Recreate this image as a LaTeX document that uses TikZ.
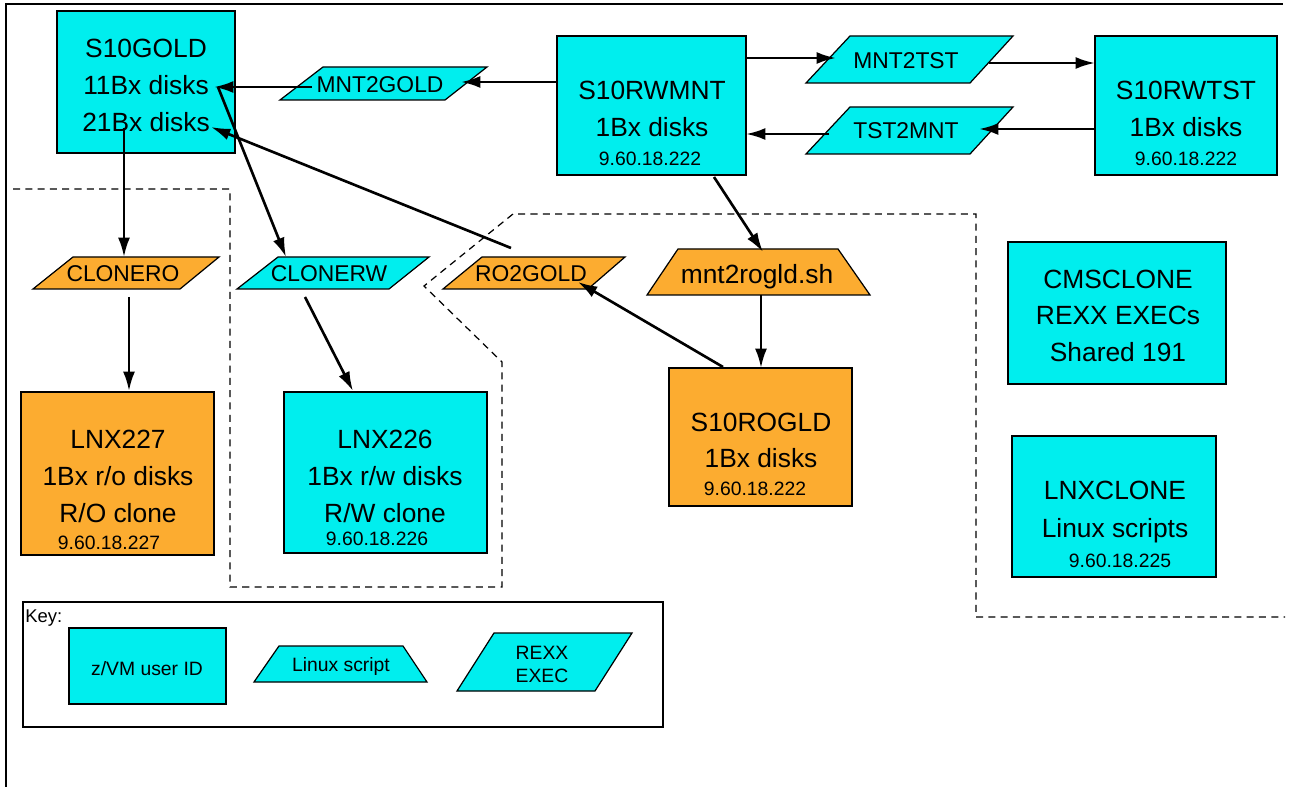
\documentclass[tikz,border=0pt]{standalone}
\usepackage{fontspec}
\setmainfont{Liberation Sans}
\usetikzlibrary{arrows.meta,fit}
\definecolor{cy}{RGB}{0,238,238}
\definecolor{org}{RGB}{252,172,48}
\begin{document}
\begin{tikzpicture}[x=0.02cm,y=-0.02cm,
  ubox/.style={draw=black, line width=0.7pt, inner sep=0pt},
  shp/.style={draw=black, line width=0.7pt, line join=miter},
  conn/.style={line width=1.5pt, -{Latex[length=11pt,width=6.8pt]}},
  dsh/.style={line width=0.7pt, dash pattern=on 4pt off 3pt},
  tA/.style={font=\fontsize{15}{18}\selectfont, inner sep=0pt, anchor=base},
  tB/.style={font=\fontsize{13}{16}\selectfont, inner sep=0pt, anchor=base},
  tC/.style={font=\fontsize{11}{13}\selectfont, inner sep=0pt, anchor=base},
  tK/.style={font=\fontsize{10.5}{12}\selectfont, inner sep=0pt, anchor=base west},
]
\useasboundingbox (0,0) rectangle (1289,787);
\fill[white] (0,0) rectangle (1289,787);
% frame
\draw[line width=0.6pt] (6,787) -- (6,4) -- (1283,4);

% dashed boundary
\draw[dsh] (13,189) -- (230,189) -- (230,587) -- (502,587) -- (502,362) -- (424,286) -- (513,214) -- (976,214) -- (976,617) -- (1285,617);

% boxes
\node[ubox, fill=cy,  fit={(57,11) (235,153)}]    (gold) {};
\node[ubox, fill=cy,  fit={(557,36) (746,175)}]   (rwmnt) {};
\node[ubox, fill=cy,  fit={(1095,36) (1277,175)}] (rwtst) {};
\node[ubox, fill=org, fit={(669,368) (852,506)}]  (rogld) {};
\node[ubox, fill=cy,  fit={(1008,242) (1226,384)}] (cmsclone) {};
\node[ubox, fill=cy,  fit={(1012,436) (1216,577)}] (lnxclone) {};
\node[ubox, fill=org, fit={(21,392) (214,555)}]   (lnx227) {};
\node[ubox, fill=cy,  fit={(284,392) (487,553)}]  (lnx226) {};
\node[ubox, fill=white, line width=0.6pt, fit={(23,602) (663,727)}] (keybox) {};
\node[ubox, fill=cy,  fit={(69,628) (226,704)}]   (keyvm) {};

% parallelograms and trapezoids
\filldraw[shp, fill=cy]  (280,100) -- (445,100) -- (487,67) -- (323,67) -- cycle;
\filldraw[shp, fill=cy]  (806,83) -- (970,83) -- (1013,36) -- (850,36) -- cycle;
\filldraw[shp, fill=cy]  (806,154) -- (970,154) -- (1013,107) -- (850,107) -- cycle;
\filldraw[shp, fill=org] (33,289) -- (180,289) -- (219,257) -- (73,257) -- cycle;
\filldraw[shp, fill=cy]  (237,289) -- (389,289) -- (429,257) -- (278,257) -- cycle;
\filldraw[shp, fill=org] (443,289) -- (588,289) -- (625,257) -- (482,257) -- cycle;
\filldraw[shp, fill=org] (647,295) -- (870,295) -- (838,249) -- (678,249) -- cycle;
\filldraw[shp, fill=cy]  (254,682) -- (427,682) -- (403,646) -- (279,646) -- cycle;
\filldraw[shp, fill=cy]  (457,691) -- (595,691) -- (632,633) -- (494,633) -- cycle;

% texts
\node[tA] (g1) at (146,57.5) {S10GOLD};
\node[tA] (g2) at (146,94.5) {11Bx disks};
\node[tA] (g3) at (146,131.5) {21Bx disks};

\node[tA] (m1) at (652,99.5) {S10RWMNT};
\node[tA] (m2) at (652,136.5) {1Bx disks};
\node[tC] (m3) at (650,166) {9.60.18.222};

\node[tA] (t1) at (1186,99.5) {S10RWTST};
\node[tA] (t2) at (1186,136.5) {1Bx disks};
\node[tC] (t3) at (1186,166) {9.60.18.222};

\node[tA] (r1) at (761,431.5) {S10ROGLD};
\node[tA] (r2) at (761,467.5) {1Bx disks};
\node[tC] (r3) at (755,495) {9.60.18.222};

\node[tA] (c1) at (1118,288.5) {CMSCLONE};
\node[tA] (c2) at (1118,324.5) {REXX EXECs};
\node[tA] (c3) at (1118,361.5) {Shared 191};

\node[tA] (l1) at (1115,499.5) {LNXCLONE};
\node[tA] (l2) at (1115,537.5) {Linux scripts};
\node[tC] (l3) at (1120,567) {9.60.18.225};

\node[tA] (a1) at (118,448.5) {LNX227};
\node[tA] (a2) at (118,485.5) {1Bx r/o disks};
\node[tA] (a3) at (118,522.5) {R/O clone};
\node[tC] (a4) at (109,549) {9.60.18.227};

\node[tA] (b1) at (385,448.5) {LNX226};
\node[tA] (b2) at (385,485.5) {1Bx r/w disks};
\node[tA] (b3) at (385,522.5) {R/W clone};
\node[tC] (b4) at (377,545) {9.60.18.226};

\node[tB] (mnt2gold) at (380,92.7) {MNT2GOLD};
\node[tB] (mnt2tst) at (906,69) {MNT2TST};
\node[tB] (tst2mnt) at (906,139) {TST2MNT};
\node[tB] (clonero) at (123,281.5) {CLONERO};
\node[tB] (clonerw) at (329,282) {CLONERW};
\node[tB] (ro2gold) at (531,281.5) {RO2GOLD};
\node[tA] (mnt2rogld) at (757,283.5) {mnt2rogld.sh};

\node[tK] (key) at (25,622) {Key:};
\node[tC] (kvm) at (147,675) {z/VM user ID};
\node[tC] (klin) at (341,671.5) {Linux script};
\node[tC] (krexx1) at (542,659) {REXX};
\node[tC] (krexx2) at (542,682) {EXEC};

% connector end points
\coordinate (p1s) at (557,82);   \coordinate (p1e) at (461,82);
\coordinate (p2s) at (312,87);   \coordinate (p2e) at (214,87);
\coordinate (p3s) at (218,87);   \coordinate (p3e) at (286,257);
\coordinate (p4s) at (511,248);  \coordinate (p4e) at (211,127);
\coordinate (p5s) at (124,128);  \coordinate (p5e) at (124,257);
\coordinate (p6s) at (129,297);  \coordinate (p6e) at (129,391);
\coordinate (p7s) at (305,297);  \coordinate (p7e) at (353,391);
\coordinate (p8s) at (746,58);   \coordinate (p8e) at (836,58);
\coordinate (p9s) at (989,63);   \coordinate (p9e) at (1095,63);
\coordinate (p10s) at (1095,129); \coordinate (p10e) at (979,129);
\coordinate (p11s) at (829,134); \coordinate (p11e) at (746,134);
\coordinate (p12s) at (714,177); \coordinate (p12e) at (763,252);
\coordinate (p13s) at (761,295); \coordinate (p13e) at (761,368);
\coordinate (p14s) at (723,367); \coordinate (p14e) at (578,282);

\draw[conn] (p1s) -- (p1e);
\draw[conn] (p2s) -- (p2e);
\draw[conn] (p3s) -- (p3e);
\draw[conn] (p4s) -- (p4e);
\draw[conn] (p5s) -- (p5e);
\draw[conn] (p6s) -- (p6e);
\draw[conn] (p7s) -- (p7e);
\draw[conn] (p8s) -- (p8e);
\draw[conn] (p9s) -- (p9e);
\draw[conn] (p10s) -- (p10e);
\draw[conn] (p11s) -- (p11e);
\draw[conn] (p12s) -- (p12e);
\draw[conn] (p13s) -- (p13e);
\draw[conn] (p14s) -- (p14e);
\end{tikzpicture}
\end{document}
